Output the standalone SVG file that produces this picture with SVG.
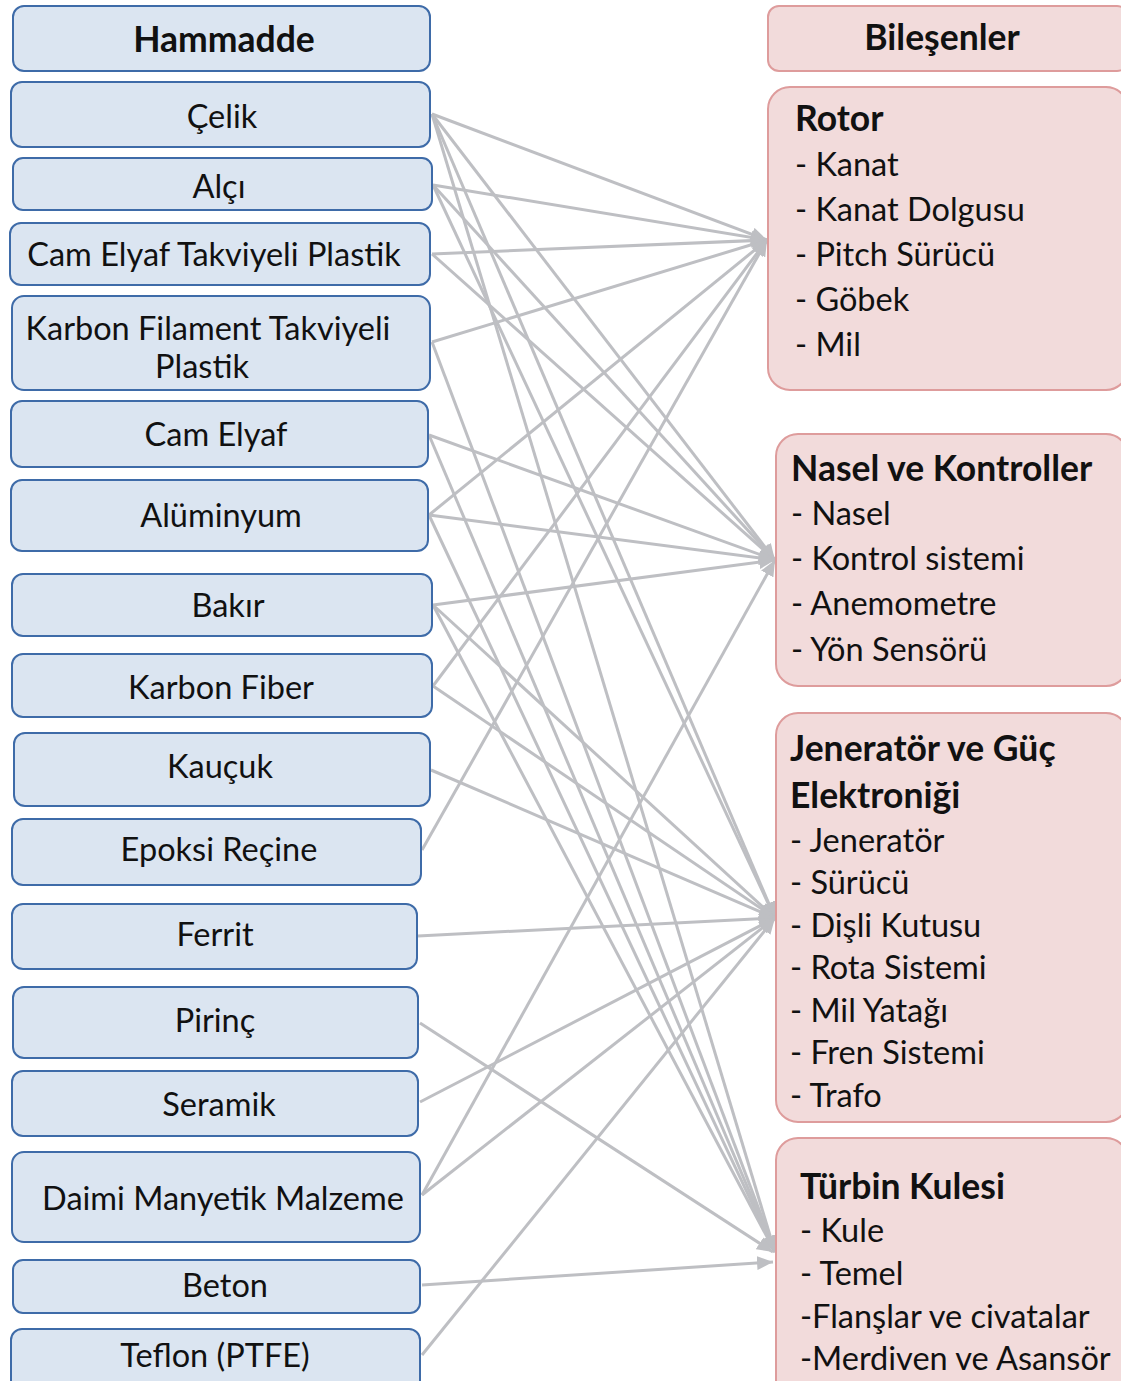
<svg xmlns="http://www.w3.org/2000/svg" width="1121" height="1381" viewBox="0 0 1121 1381">
<defs>
<marker id="ah" markerUnits="userSpaceOnUse" markerWidth="18" markerHeight="14" refX="16" refY="7" orient="auto">
<path d="M0,0 L16,7 L0,14 z" fill="#BEBFC3"/>
</marker>
<style>
.lb{fill:#DBE5F1;stroke:#3E6BA8;stroke-width:2}
.rb{fill:#F2DBDB;stroke:#DE9C9C;stroke-width:2}
.t{font-family:Lato,"Liberation Sans",sans-serif;font-size:32.5px;fill:#111}
.c{text-anchor:middle}
.b{font-weight:bold;font-size:35.5px}
.cn line{stroke:#BEBFC3;stroke-width:3;marker-end:url(#ah)}
</style>
</defs>
<rect width="1121" height="1381" fill="#fff"/>

<g id="connectors" class="cn">
<!-- Rotor -->
<line x1="432" y1="114" x2="767" y2="240"/>
<line x1="433" y1="185" x2="767" y2="240"/>
<line x1="432" y1="254" x2="767" y2="240"/>
<line x1="432" y1="342" x2="767" y2="240"/>
<line x1="429" y1="515" x2="767" y2="240"/>
<line x1="433" y1="686" x2="767" y2="240"/>
<line x1="422" y1="850" x2="767" y2="240"/>
<!-- Nasel -->
<line x1="432" y1="114" x2="775" y2="560"/>
<line x1="433" y1="185" x2="775" y2="560"/>
<line x1="432" y1="254" x2="775" y2="560"/>
<line x1="429" y1="435" x2="775" y2="560"/>
<line x1="429" y1="515" x2="775" y2="560"/>
<line x1="433" y1="605" x2="775" y2="560"/>
<line x1="422" y1="1195" x2="775" y2="560"/>
<!-- Jenerator -->
<line x1="432" y1="114" x2="775" y2="918"/>
<line x1="433" y1="185" x2="775" y2="918"/>
<line x1="433" y1="605" x2="775" y2="918"/>
<line x1="433" y1="686" x2="775" y2="918"/>
<line x1="431" y1="770" x2="775" y2="918"/>
<line x1="418" y1="936" x2="775" y2="918"/>
<line x1="420" y1="1102" x2="775" y2="918"/>
<line x1="422" y1="1195" x2="775" y2="918"/>
<line x1="422" y1="1355" x2="775" y2="918"/>
<!-- Turbin -->
<line x1="432" y1="114" x2="775" y2="1252"/>
<line x1="432" y1="342" x2="775" y2="1252"/>
<line x1="429" y1="435" x2="775" y2="1252"/>
<line x1="429" y1="515" x2="775" y2="1252"/>
<line x1="433" y1="605" x2="775" y2="1252"/>
<line x1="420" y1="1023" x2="773" y2="1252"/>
<line x1="422" y1="1285" x2="773" y2="1262"/>
</g>

<g id="hammadde"><rect class="lb" x="13" y="6" width="417" height="65" rx="11"/><text class="t c b" x="224" y="52">Hammadde</text></g>
<g id="celik"><rect class="lb" x="11" y="82" width="419" height="65" rx="11"/><text class="t c" x="222" y="128">Çelik</text></g>
<g id="alci"><rect class="lb" x="13" y="158" width="419" height="52" rx="10"/><text class="t c" x="219" y="198">Alçı</text></g>
<g id="cetp"><rect class="lb" x="10" y="223" width="420" height="62" rx="11"/><text class="t c" x="214" y="266">Cam Elyaf Takviyeli Plastik</text></g>
<g id="kftp"><rect class="lb" x="12" y="296" width="418" height="94" rx="12"/><text class="t c" x="208" y="340">Karbon Filament Takviyeli</text><text class="t c" x="202" y="378">Plastik</text></g>
<g id="camelyaf"><rect class="lb" x="11" y="401" width="417" height="66" rx="11"/><text class="t c" x="216" y="446">Cam Elyaf</text></g>
<g id="aluminyum"><rect class="lb" x="11" y="480" width="417" height="71" rx="11"/><text class="t c" x="221" y="527">Alüminyum</text></g>
<g id="bakir"><rect class="lb" x="12" y="574" width="420" height="62" rx="11"/><text class="t c" x="228" y="617">Bakır</text></g>
<g id="karbonfiber"><rect class="lb" x="12" y="654" width="420" height="63" rx="11"/><text class="t c" x="221" y="699">Karbon Fiber</text></g>
<g id="kaucuk"><rect class="lb" x="14" y="733" width="416" height="73" rx="11"/><text class="t c" x="220" y="778">Kauçuk</text></g>
<g id="epoksi"><rect class="lb" x="12" y="819" width="409" height="66" rx="11"/><text class="t c" x="219" y="861">Epoksi Reçine</text></g>
<g id="ferrit"><rect class="lb" x="12" y="904" width="405" height="65" rx="11"/><text class="t c" x="215" y="946">Ferrit</text></g>
<g id="pirinc"><rect class="lb" x="13" y="987" width="405" height="71" rx="11"/><text class="t c" x="215" y="1032">Pirinç</text></g>
<g id="seramik"><rect class="lb" x="12" y="1071" width="406" height="65" rx="11"/><text class="t c" x="219" y="1116">Seramik</text></g>
<g id="daimi"><rect class="lb" x="12" y="1152" width="408" height="90" rx="12"/><text class="t c" x="223" y="1210">Daimi Manyetik Malzeme</text></g>
<g id="beton"><rect class="lb" x="13" y="1260" width="407" height="53" rx="10"/><text class="t c" x="225" y="1297">Beton</text></g>
<g id="teflon"><rect class="lb" x="11" y="1329" width="409" height="70" rx="11"/><text class="t c" x="215" y="1367">Teflon (PTFE)</text></g>

<g id="bilesenler"><rect class="rb" x="768" y="6" width="360" height="65" rx="11"/><text class="t c b" x="942" y="50">Bileşenler</text></g>
<g id="rotor"><rect class="rb" x="768" y="87" width="360" height="303" rx="22"/>
<text class="t b" x="795" y="131">Rotor</text>
<text class="t" x="795" y="176">- Kanat</text>
<text class="t" x="795" y="221">- Kanat Dolgusu</text>
<text class="t" x="795" y="266">- Pitch Sürücü</text>
<text class="t" x="795" y="311">- Göbek</text>
<text class="t" x="795" y="356">- Mil</text></g>
<g id="nasel"><rect class="rb" x="776" y="434" width="352" height="252" rx="22"/>
<text class="t b" x="791" y="481">Nasel ve Kontroller</text>
<text class="t" x="791" y="525">- Nasel</text>
<text class="t" x="791" y="570">- Kontrol sistemi</text>
<text class="t" x="791" y="615">- Anemometre</text>
<text class="t" x="791" y="661">- Yön Sensörü</text></g>
<g id="jenerator"><rect class="rb" x="776" y="713" width="352" height="409" rx="22"/>
<text class="t b" x="790" y="761">Jeneratör ve Güç</text>
<text class="t b" x="790" y="808">Elektroniği</text>
<text class="t" x="790" y="852">- Jeneratör</text>
<text class="t" x="790" y="894">- Sürücü</text>
<text class="t" x="790" y="937">- Dişli Kutusu</text>
<text class="t" x="790" y="979">- Rota Sistemi</text>
<text class="t" x="790" y="1022">- Mil Yatağı</text>
<text class="t" x="790" y="1064">- Fren Sistemi</text>
<text class="t" x="790" y="1107">- Trafo</text></g>
<g id="turbin"><rect class="rb" x="776" y="1138" width="352" height="270" rx="22"/>
<text class="t b" x="800" y="1199">Türbin Kulesi</text>
<text class="t" x="800" y="1242">- Kule</text>
<text class="t" x="800" y="1285">- Temel</text>
<text class="t" x="800" y="1328">-Flanşlar ve civatalar</text>
<text class="t" x="800" y="1370">-Merdiven ve Asansör</text></g>
</svg>
